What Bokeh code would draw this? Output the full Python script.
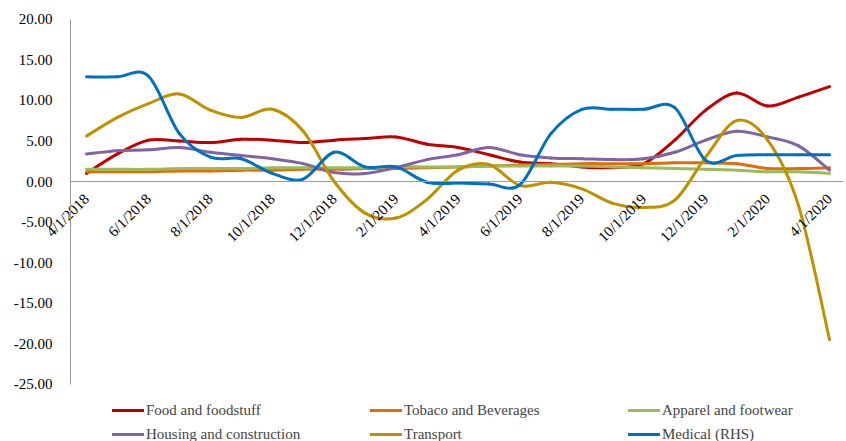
import numpy as np
from bokeh.plotting import figure
from bokeh.models import (ColumnDataSource, Range1d, FixedTicker, Legend,
                          LegendItem, NumeralTickFormatter)
from bokeh.embed import file_html
from bokeh.resources import INLINE

# Monthly dates (x categories)
months = ["4/1/2018", "5/1/2018", "6/1/2018", "7/1/2018", "8/1/2018", "9/1/2018",
          "10/1/2018", "11/1/2018", "12/1/2018", "1/1/2019", "2/1/2019", "3/1/2019",
          "4/1/2019", "5/1/2019", "6/1/2019", "7/1/2019", "8/1/2019", "9/1/2019",
          "10/1/2019", "11/1/2019", "12/1/2019", "1/1/2020", "2/1/2020", "3/1/2020",
          "4/1/2020"]

food = [1.0, 3.4, 5.1, 5.0, 4.8, 5.2, 5.1, 4.8, 5.1, 5.3, 5.5, 4.6, 4.2,
        3.3, 2.4, 2.2, 1.8, 1.7, 2.2, 5.1, 8.8, 10.9, 9.3, 10.4, 11.7]
tobacco = [1.2, 1.2, 1.2, 1.3, 1.3, 1.4, 1.4, 1.5, 1.5, 1.6, 1.6, 1.7, 1.8,
           1.9, 2.0, 2.1, 2.2, 2.2, 2.2, 2.3, 2.3, 2.2, 1.6, 1.6, 1.7]
apparel = [1.5, 1.5, 1.5, 1.6, 1.6, 1.6, 1.7, 1.7, 1.7, 1.7, 1.8, 1.8, 1.8,
           1.9, 1.9, 1.9, 1.9, 1.8, 1.7, 1.6, 1.5, 1.4, 1.2, 1.2, 1.0]
housing = [3.4, 3.8, 3.9, 4.2, 3.6, 3.2, 2.8, 2.2, 1.1, 1.0, 1.7, 2.7, 3.3,
           4.2, 3.3, 2.9, 2.8, 2.7, 2.8, 3.6, 5.1, 6.2, 5.5, 4.4, 1.4]
transport = [5.6, 7.9, 9.6, 10.8, 8.8, 7.9, 8.9, 6.2, 0.0, -3.9, -4.5, -2.2, 1.4,
             2.1, -0.5, -0.1, -0.9, -2.7, -3.2, -2.3, 3.0, 7.5, 5.1, -3.0, -19.5]
medical = [12.9, 12.9, 13.0, 5.9, 3.0, 2.8, 1.0, 0.3, 3.6, 1.8, 1.8, -0.1, -0.2,
           -0.3, -0.4, 5.9, 8.9, 8.9, 8.9, 9.1, 2.6, 3.2, 3.3, 3.3, 3.3]

series = [
    ("Food and foodstuff", food, "#C00000"),
    ("Tobaco and Beverages", tobacco, "#E36C09"),
    ("Apparel and footwear", apparel, "#9BBB59"),
    ("Housing and construction", housing, "#8064A2"),
    ("Transport", transport, "#BF9000"),
    ("Medical (RHS)", medical, "#0070C0"),
]

FONT = "Liberation Serif"


def smooth_segments(values):
    """Cubic Bezier segments (Catmull-Rom style control points) through each value."""
    y = np.asarray(values, dtype=float)
    x = np.arange(len(y), dtype=float)
    n = len(y)
    xp = np.concatenate([[x[0]], x, [x[-1]]])
    yp = np.concatenate([[y[0]], y, [y[-1]]])
    return dict(
        x0=x[:-1], y0=y[:-1], x1=x[1:], y1=y[1:],
        cx0=x[:-1] + (xp[2:n + 1] - xp[0:n - 1]) / 6.0,
        cy0=y[:-1] + (yp[2:n + 1] - yp[0:n - 1]) / 6.0,
        cx1=x[1:] - (xp[3:n + 2] - xp[1:n]) / 6.0,
        cy1=y[1:] - (yp[3:n + 2] - yp[1:n]) / 6.0,
    )


# The frame spans the whole canvas; both axes sit at fixed positions inside it
W, H = 846, 441
px_per_month = 30.96
x0_px = 86.0
px_per_unit = 8.111
y0_px = 181.0
x_start = -x0_px / px_per_month
x_end = (W - x0_px) / px_per_month
y_top = y0_px / px_per_unit
y_bottom = (y0_px - H) / px_per_unit
y_axis_at = (70.0 - x0_px) / px_per_month

p = figure(width=W, height=H, output_backend="svg", toolbar_location=None,
           x_range=Range1d(x_start, x_end), y_range=Range1d(y_bottom, y_top),
           min_border=0)
p.outline_line_color = None
p.xgrid.grid_line_color = None
p.ygrid.grid_line_color = None

items = []
for label, vals, color in series:
    src = ColumnDataSource(smooth_segments(vals))
    r = p.bezier(x0="x0", y0="y0", x1="x1", y1="y1", cx0="cx0", cy0="cy0",
                 cx1="cx1", cy1="cy1", source=src, line_color=color,
                 line_width=3, line_cap="round")
    items.append(LegendItem(label=label, renderers=[r]))

# Axes
axis_color = "#9A9A9A"
p.yaxis.ticker = FixedTicker(ticks=list(range(-25, 21, 5)))
p.yaxis.formatter = NumeralTickFormatter(format="0.00")
p.yaxis.fixed_location = y_axis_at
p.yaxis.bounds = (-25, 20)
p.xaxis.ticker = FixedTicker(ticks=list(range(0, len(months), 2)))
p.xaxis.major_label_overrides = {i: months[i] for i in range(0, len(months), 2)}
p.xaxis.major_label_orientation = np.pi / 4
p.xaxis.fixed_location = 0
p.xaxis.bounds = (y_axis_at, x_end - 0.1)
for ax in (p.xaxis, p.yaxis):
    ax.axis_line_color = axis_color
    ax.axis_line_width = 1
    ax.major_tick_line_color = None
    ax.minor_tick_line_color = None
    ax.major_label_text_font = FONT
    ax.major_label_text_font_size = "15px"
    ax.major_label_text_color = "#000000"
p.yaxis.major_label_standoff = 12
p.xaxis.major_label_standoff = 9

legend = Legend(items=items, orientation="horizontal", ncols=3,
                location=(112, -5), padding=0, margin=0, spacing=0,
                glyph_width=32, glyph_height=24, label_height=24,
                label_width=224, label_standoff=2,
                label_text_font=FONT, label_text_font_size="15px",
                border_line_alpha=0, background_fill_alpha=0)
p.add_layout(legend, "center")

open("out.html", "w").write(file_html(p, INLINE))
